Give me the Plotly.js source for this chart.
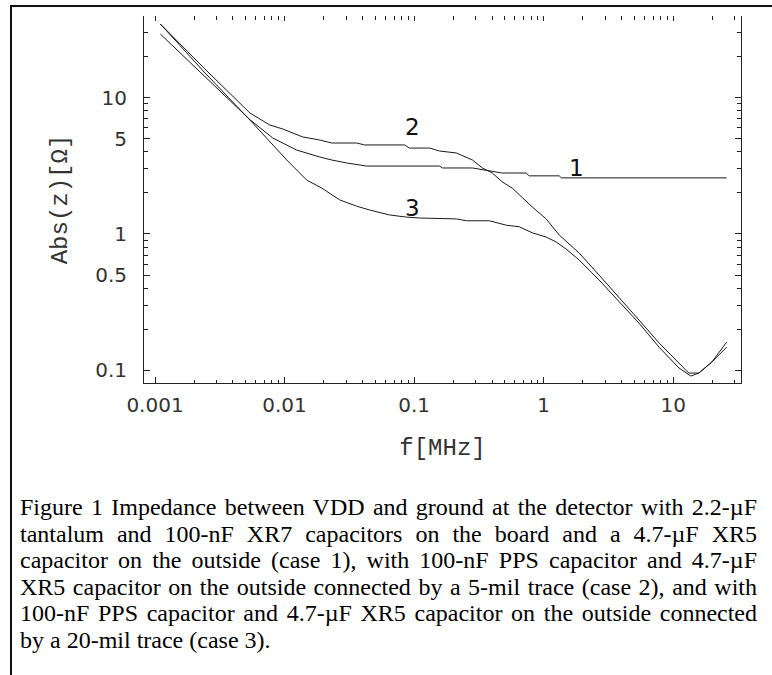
<!DOCTYPE html>
<html>
<head>
<meta charset="utf-8">
<script src="https://cdn.plot.ly/plotly-3.0.1.min.js"></script>
<style>
  html, body { margin: 0; padding: 0; background: #fff; }
  #wrap { position: relative; width: 772px; height: 675px; overflow: hidden; background: #fff; }
  #plot { position: absolute; left: 0; top: 0; width: 772px; height: 675px; }
  #frame { position: absolute; left: 10px; top: 5px; right: -5px; bottom: -5px;
           border-top: 2px solid #111; border-left: 2px solid #111; pointer-events: none; }
  #caption { position: absolute; left: 20px; top: 494px; width: 737px;
             font-family: "Liberation Serif", "Times New Roman", serif; font-size: 24px;
             line-height: 26.5px; color: #000; }
  #caption .j { text-align: justify; text-align-last: justify; white-space: nowrap; }
  #caption .l { text-align: left; white-space: nowrap; }
</style>
</head>
<body>
<div id="wrap">
  <div id="plot"></div>
  <div id="frame"></div>
  <div id="caption"></div>
</div>
<script>
// ---- data (frequency in MHz, impedance in ohms) ----
var f1 = [0.0011, 0.0024, 0.0054, 0.0081, 0.0124, 0.0187, 0.0231, 0.0301, 0.043, 0.157, 0.166, 0.282, 0.381, 0.48, 0.734, 0.774, 1.32, 1.37, 25.9];
var z1 = [29.3, 14.4, 6.9, 5.06, 4.13, 3.67, 3.49, 3.32, 3.15, 3.15, 3.05, 3.05, 2.90, 2.80, 2.80, 2.67, 2.67, 2.58, 2.58];

var f2 = [0.0011, 0.0024, 0.0054, 0.0077, 0.0097, 0.0138, 0.0187, 0.0231, 0.036, 0.0415, 0.0843, 0.0922, 0.132, 0.157, 0.212, 0.282, 0.337, 0.402, 0.48, 0.573, 0.817, 1.047, 1.32, 1.88, 2.68, 3.82, 5.45, 7.78, 10.5, 13.2, 15.8, 19.9, 25.9];
var z2 = [34.7, 16.4, 7.72, 6.30, 5.89, 5.15, 4.89, 4.65, 4.65, 4.50, 4.50, 4.27, 4.27, 4.06, 3.93, 3.49, 3.05, 2.80, 2.41, 2.17, 1.58, 1.29, 0.983, 0.726, 0.50, 0.345, 0.234, 0.159, 0.119, 0.0955, 0.0955, 0.115, 0.161];

var f3 = [0.0011, 0.0024, 0.0054, 0.0104, 0.0148, 0.0194, 0.0266, 0.036, 0.0453, 0.0645, 0.0873, 0.110, 0.212, 0.254, 0.381, 0.515, 0.649, 0.817, 1.047, 1.25, 1.49, 1.88, 2.68, 3.82, 5.45, 7.78, 11.1, 13.7, 15.8, 19.9, 25.9];
var z3 = [34.7, 15.4, 6.86, 3.49, 2.49, 2.17, 1.78, 1.60, 1.50, 1.38, 1.33, 1.31, 1.29, 1.25, 1.25, 1.16, 1.13, 1.02, 0.95, 0.874, 0.776, 0.645, 0.46, 0.317, 0.222, 0.148, 0.104, 0.0908, 0.0955, 0.115, 0.148];

var curveNames = ["1", "2", "3"];
var labelF = [1.78, 0.097, 0.097];
var labelZ = [3.05, 6.1, 1.55];

var xTickVals = [0.001, 0.01, 0.1, 1, 10];
var xTickText = ["0.001", "0.01", "0.1", "1", "10"];
var yTickVals = [0.1, 0.5, 1, 5, 10];
var yTickText = ["0.1", "0.5", "1", "5", "10"];

var xTitle = "f[MHz]";
var yTitle = "Abs(z)[\u03A9]";

var captionLines = [
  "Figure 1 Impedance between VDD and ground at the detector with 2.2-\u00B5F",
  "tantalum and 100-nF XR7 capacitors on the board and a 4.7-\u00B5F XR5",
  "capacitor on the outside (case 1), with 100-nF PPS capacitor and 4.7-\u00B5F",
  "XR5 capacitor on the outside connected by a 5-mil trace (case 2), and with",
  "100-nF PPS capacitor and 4.7-\u00B5F XR5 capacitor on the outside connected",
  "by a 20-mil trace (case 3)."
];

// ---- minor tick positions ----
function minorTicks(decades, extra, skip) {
  var out = [];
  decades.forEach(function (d) {
    for (var k = 2; k <= 9; k++) {
      if (skip && skip.indexOf(k) >= 0) continue;
      out.push(+(k * d).toPrecision(3));
    }
  });
  return out.concat(extra || []);
}
var xMinor = minorTicks([0.001, 0.01, 0.1, 1], [20, 30]);
var yMinor = minorTicks([0.1, 1], [20, 30], [5]);

var lineStyle = { color: "#1a1a1a", width: 1 };
var traces = [
  { x: f1, y: z1, name: curveNames[0], mode: "lines", line: lineStyle, hoverinfo: "skip" },
  { x: f2, y: z2, name: curveNames[1], mode: "lines", line: lineStyle, hoverinfo: "skip" },
  { x: f3, y: z3, name: curveNames[2], mode: "lines", line: lineStyle, hoverinfo: "skip" },
  { x: [], y: [], xaxis: "x2", yaxis: "y", mode: "lines", showlegend: false, hoverinfo: "skip" }
];

var xRange = [-3.085, 1.524];
var yRange = [-1.093, 1.599];
var axCol = "#222";
var tickFont = { family: "DejaVu Sans, sans-serif", size: 20, color: "#333" };
var titleFont = { family: "Liberation Mono, Courier New, monospace", size: 24, color: "#333" };

var annotations = curveNames.map(function (n, i) {
  return {
    x: Math.log10(labelF[i]), y: Math.log10(labelZ[i]), xref: "x", yref: "y",
    text: n, showarrow: false, xanchor: "center", yanchor: "middle",
    font: { family: "DejaVu Sans, sans-serif", size: 23, color: "#111" }
  };
});

var layout = {
  width: 772, height: 675,
  margin: { l: 144, r: 31, t: 16, b: 292 },
  paper_bgcolor: "rgba(0,0,0,0)", plot_bgcolor: "#fff",
  showlegend: false,
  xaxis: {
    type: "log", range: xRange, autorange: false, automargin: true,
    tickmode: "array", tickvals: xTickVals, ticktext: xTickText,
    ticks: "inside", ticklen: 6, tickwidth: 1, tickcolor: axCol,
    showline: true, linecolor: axCol, linewidth: 1, mirror: false,
    showgrid: false, zeroline: false, tickfont: tickFont, ticklabelstandoff: 4,
    minor: { tickmode: "array", tickvals: xMinor, ticks: "inside", ticklen: 3.5, tickcolor: axCol, showgrid: false },
    title: { text: xTitle, font: titleFont, standoff: 22 }
  },
  xaxis2: {
    type: "log", range: xRange, autorange: false, overlaying: "x", side: "top",
    tickmode: "array", tickvals: xTickVals, ticks: "inside", ticklen: 5, tickwidth: 1, tickcolor: axCol,
    showticklabels: false, showline: false, showgrid: false, zeroline: false,
    minor: { tickmode: "array", tickvals: xMinor, ticks: "inside", ticklen: 4, tickcolor: axCol, showgrid: false }
  },
  yaxis: {
    type: "log", range: yRange, autorange: false,
    tickmode: "array", tickvals: yTickVals, ticktext: yTickText,
    ticks: "inside", ticklen: 6, tickwidth: 1, tickcolor: axCol,
    showline: true, linecolor: axCol, linewidth: 1, mirror: "ticks",
    showgrid: false, zeroline: false, tickfont: tickFont, ticklabelstandoff: 12,
    minor: { tickmode: "array", tickvals: yMinor, ticks: "inside", ticklen: 4, tickcolor: axCol, showgrid: false },
    title: { text: yTitle, font: titleFont, standoff: 20 }
  },
  annotations: annotations
};

Plotly.newPlot("plot", traces, layout, { displayModeBar: false, staticPlot: true });

var cap = document.getElementById("caption");
captionLines.forEach(function (t, i) {
  var d = document.createElement("div");
  d.className = (i < captionLines.length - 1) ? "j" : "l";
  d.textContent = t;
  cap.appendChild(d);
});
</script>
</body>
</html>
